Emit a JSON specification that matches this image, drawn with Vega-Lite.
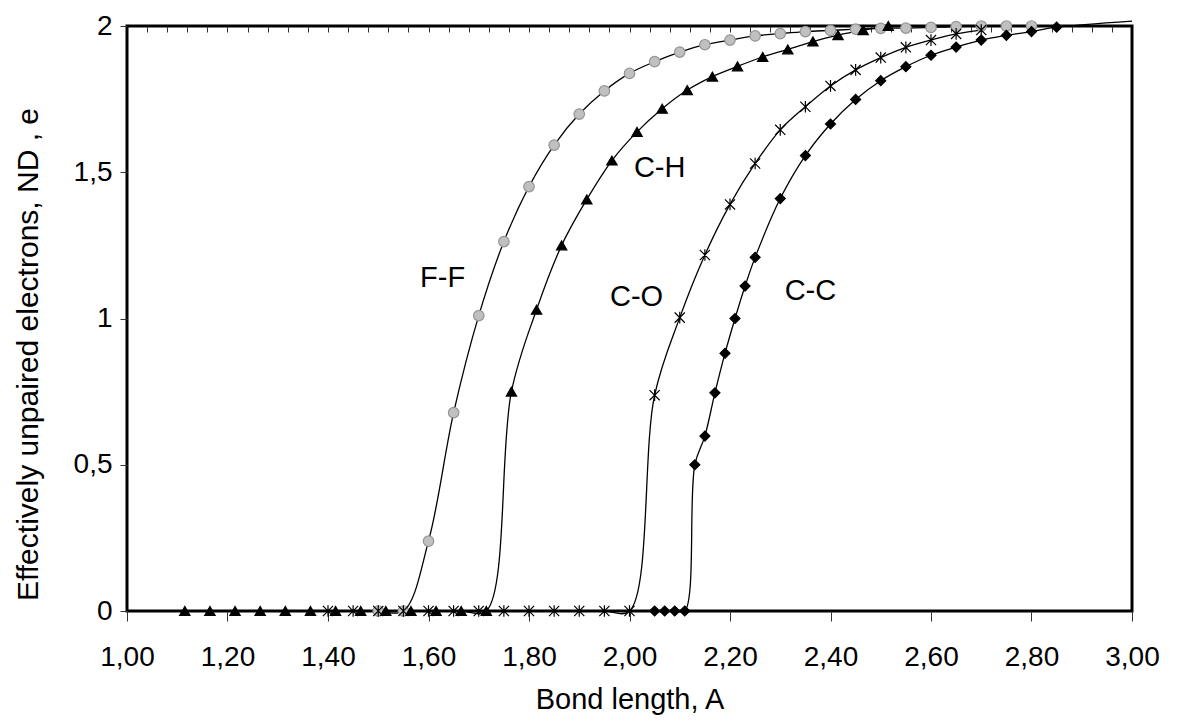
{
  "$schema": "https://vega.github.io/schema/vega-lite/v6.json",
  "width": 1005,
  "height": 585,
  "autosize": {"type": "none"},
  "padding": {"left": 127, "top": 26, "right": 61, "bottom": 113},
  "background": "white",
  "config": {
    "font": "Liberation Sans",
    "view": {"stroke": "black", "strokeWidth": 3}
  },
  "datasets": {
    "curves": [
      {"series": "F-F", "x": 1.50, "y": 0},
      {"series": "F-F", "x": 1.55, "y": 0},
      {"series": "F-F", "x": 1.60, "y": 0.239},
      {"series": "F-F", "x": 1.65, "y": 0.678},
      {"series": "F-F", "x": 1.70, "y": 1.01},
      {"series": "F-F", "x": 1.75, "y": 1.263},
      {"series": "F-F", "x": 1.80, "y": 1.451},
      {"series": "F-F", "x": 1.85, "y": 1.593},
      {"series": "F-F", "x": 1.90, "y": 1.699},
      {"series": "F-F", "x": 1.95, "y": 1.778},
      {"series": "F-F", "x": 2.00, "y": 1.838},
      {"series": "F-F", "x": 2.05, "y": 1.878},
      {"series": "F-F", "x": 2.10, "y": 1.911},
      {"series": "F-F", "x": 2.15, "y": 1.936},
      {"series": "F-F", "x": 2.20, "y": 1.952},
      {"series": "F-F", "x": 2.25, "y": 1.966},
      {"series": "F-F", "x": 2.30, "y": 1.974},
      {"series": "F-F", "x": 2.35, "y": 1.981},
      {"series": "F-F", "x": 2.40, "y": 1.985},
      {"series": "F-F", "x": 2.45, "y": 1.989},
      {"series": "F-F", "x": 2.50, "y": 1.992},
      {"series": "F-F", "x": 2.55, "y": 1.993},
      {"series": "F-F", "x": 2.60, "y": 1.995},
      {"series": "F-F", "x": 2.65, "y": 1.998},
      {"series": "F-F", "x": 2.70, "y": 2.0},
      {"series": "F-F", "x": 2.75, "y": 2.0},
      {"series": "F-F", "x": 2.80, "y": 2.0},
      {"series": "C-H", "x": 1.115, "y": 0},
      {"series": "C-H", "x": 1.165, "y": 0},
      {"series": "C-H", "x": 1.215, "y": 0},
      {"series": "C-H", "x": 1.265, "y": 0},
      {"series": "C-H", "x": 1.315, "y": 0},
      {"series": "C-H", "x": 1.365, "y": 0},
      {"series": "C-H", "x": 1.415, "y": 0},
      {"series": "C-H", "x": 1.465, "y": 0},
      {"series": "C-H", "x": 1.515, "y": 0},
      {"series": "C-H", "x": 1.565, "y": 0},
      {"series": "C-H", "x": 1.615, "y": 0},
      {"series": "C-H", "x": 1.665, "y": 0},
      {"series": "C-H", "x": 1.715, "y": 0},
      {"series": "C-H", "x": 1.765, "y": 0.75},
      {"series": "C-H", "x": 1.815, "y": 1.03},
      {"series": "C-H", "x": 1.865, "y": 1.25},
      {"series": "C-H", "x": 1.915, "y": 1.407},
      {"series": "C-H", "x": 1.965, "y": 1.54},
      {"series": "C-H", "x": 2.015, "y": 1.638},
      {"series": "C-H", "x": 2.065, "y": 1.717},
      {"series": "C-H", "x": 2.115, "y": 1.781},
      {"series": "C-H", "x": 2.165, "y": 1.827},
      {"series": "C-H", "x": 2.215, "y": 1.862},
      {"series": "C-H", "x": 2.265, "y": 1.894},
      {"series": "C-H", "x": 2.315, "y": 1.92},
      {"series": "C-H", "x": 2.365, "y": 1.947},
      {"series": "C-H", "x": 2.415, "y": 1.969},
      {"series": "C-H", "x": 2.465, "y": 1.986},
      {"series": "C-H", "x": 2.515, "y": 2.0},
      {"series": "C-O", "x": 1.40, "y": 0},
      {"series": "C-O", "x": 1.45, "y": 0},
      {"series": "C-O", "x": 1.50, "y": 0},
      {"series": "C-O", "x": 1.55, "y": 0},
      {"series": "C-O", "x": 1.60, "y": 0},
      {"series": "C-O", "x": 1.65, "y": 0},
      {"series": "C-O", "x": 1.70, "y": 0},
      {"series": "C-O", "x": 1.75, "y": 0},
      {"series": "C-O", "x": 1.80, "y": 0},
      {"series": "C-O", "x": 1.85, "y": 0},
      {"series": "C-O", "x": 1.90, "y": 0},
      {"series": "C-O", "x": 1.95, "y": 0},
      {"series": "C-O", "x": 2.00, "y": 0},
      {"series": "C-O", "x": 2.05, "y": 0.738},
      {"series": "C-O", "x": 2.10, "y": 1.003},
      {"series": "C-O", "x": 2.15, "y": 1.217},
      {"series": "C-O", "x": 2.20, "y": 1.39},
      {"series": "C-O", "x": 2.25, "y": 1.53},
      {"series": "C-O", "x": 2.30, "y": 1.645},
      {"series": "C-O", "x": 2.35, "y": 1.724},
      {"series": "C-O", "x": 2.40, "y": 1.795},
      {"series": "C-O", "x": 2.45, "y": 1.85},
      {"series": "C-O", "x": 2.50, "y": 1.892},
      {"series": "C-O", "x": 2.55, "y": 1.927},
      {"series": "C-O", "x": 2.60, "y": 1.952},
      {"series": "C-O", "x": 2.65, "y": 1.973},
      {"series": "C-O", "x": 2.70, "y": 1.986},
      {"series": "C-C", "x": 2.05, "y": 0},
      {"series": "C-C", "x": 2.07, "y": 0},
      {"series": "C-C", "x": 2.09, "y": 0},
      {"series": "C-C", "x": 2.11, "y": 0},
      {"series": "C-C", "x": 2.13, "y": 0.5},
      {"series": "C-C", "x": 2.15, "y": 0.598},
      {"series": "C-C", "x": 2.17, "y": 0.746},
      {"series": "C-C", "x": 2.19, "y": 0.881},
      {"series": "C-C", "x": 2.21, "y": 1.0},
      {"series": "C-C", "x": 2.23, "y": 1.111},
      {"series": "C-C", "x": 2.25, "y": 1.209},
      {"series": "C-C", "x": 2.30, "y": 1.41},
      {"series": "C-C", "x": 2.35, "y": 1.557},
      {"series": "C-C", "x": 2.40, "y": 1.665},
      {"series": "C-C", "x": 2.45, "y": 1.749},
      {"series": "C-C", "x": 2.50, "y": 1.813},
      {"series": "C-C", "x": 2.55, "y": 1.861},
      {"series": "C-C", "x": 2.60, "y": 1.9},
      {"series": "C-C", "x": 2.65, "y": 1.928},
      {"series": "C-C", "x": 2.70, "y": 1.952},
      {"series": "C-C", "x": 2.75, "y": 1.968},
      {"series": "C-C", "x": 2.80, "y": 1.981},
      {"series": "C-C", "x": 2.85, "y": 1.996},
      {"series": "C-C", "x": 3.00, "y": 2.017}
    ],
    "labels": [
      {"label": "F-F", "x": 1.628, "y": 1.138},
      {"label": "C-H", "x": 2.06, "y": 1.516},
      {"label": "C-O", "x": 2.014, "y": 1.075},
      {"label": "C-C", "x": 2.36, "y": 1.094}
    ]
  },
  "layer": [
    {
      "data": {"name": "curves"},
      "mark": {"type": "line", "interpolate": "catmull-rom", "color": "black", "strokeWidth": 1.3},
      "encoding": {
        "x": {
          "field": "x", "type": "quantitative",
          "scale": {"domain": [1, 3], "nice": false, "zero": false},
          "axis": {
            "values": [1, 1.2, 1.4, 1.6, 1.8, 2, 2.2, 2.4, 2.6, 2.8, 3],
            "labelExpr": "replace(format(datum.value, '.2f'), '.', ',')",
            "tickSize": 10, "tickColor": "#333", "domain": false, "grid": false,
            "labelFontSize": 28, "labelColor": "black", "labelPadding": 22,
            "labelFlush": false, "labelOverlap": false,
            "title": "Bond length, A", "titleFontSize": 29, "titleFontWeight": "normal",
            "titleColor": "black", "titleY": 97, "titleBaseline": "alphabetic"
          }
        },
        "y": {
          "field": "y", "type": "quantitative",
          "scale": {"domain": [0, 2], "nice": false},
          "axis": {
            "values": [0, 0.5, 1, 1.5, 2],
            "labelExpr": "replace(toString(datum.value), '.', ',')",
            "tickSize": 7, "tickColor": "#333", "domain": false, "grid": false,
            "labelFontSize": 28, "labelColor": "black", "labelPadding": 8,
            "labelFlush": false, "labelOverlap": false,
            "title": "Effectively unpaired electrons,  ND , e", "titleFontSize": 30,
            "titleFontWeight": "normal", "titleColor": "black",
            "titleX": -99, "titleY": 328, "titleAngle": 270,
            "titleAlign": "center", "titleBaseline": "middle"
          }
        },
        "detail": {"field": "series"}
      }
    },
    {
      "data": {"name": "curves"},
      "transform": [{"filter": "datum.x <= 2.9"}],
      "mark": {"type": "point", "opacity": 1},
      "encoding": {
        "x": {
          "field": "x", "type": "quantitative",
          "scale": {"domain": [1, 3], "nice": false, "zero": false},
          "axis": {
            "values": [1.04,1.08,1.12,1.16,1.2,1.24,1.28,1.32,1.36,1.4,1.44,1.48,1.52,1.56,1.6,1.64,1.68,1.72,1.76,1.8,1.84,1.88,1.92,1.96,2,2.04,2.08,2.12,2.16,2.2,2.24,2.28,2.32,2.36,2.4,2.44,2.48,2.52,2.56,2.6,2.64,2.68,2.72,2.76,2.8,2.84,2.88,2.92,2.96],
            "tickSize": -6, "tickColor": "#333", "labels": false, "domain": false,
            "grid": false, "title": null
          }
        },
        "y": {
          "field": "y", "type": "quantitative",
          "scale": {"domain": [0, 2], "nice": false},
          "axis": null
        },
        "shape": {
          "field": "series", "type": "nominal",
          "scale": {"domain": ["F-F", "C-H", "C-O", "C-C"], "range": ["circle", "triangle-up", "M-1,-1L1,1M-1,1L1,-1M0,-1.15L0,1.15", "diamond"]},
          "legend": null
        },
        "fill": {
          "field": "series", "type": "nominal",
          "scale": {"domain": ["F-F", "C-H", "C-O", "C-C"], "range": ["#c0c0c0", "#000000", "transparent", "#000000"]},
          "legend": null
        },
        "stroke": {
          "field": "series", "type": "nominal",
          "scale": {"domain": ["F-F", "C-H", "C-O", "C-C"], "range": ["#949494", "#000000", "#000000", "#000000"]},
          "legend": null
        },
        "size": {
          "field": "series", "type": "nominal",
          "scale": {"domain": ["F-F", "C-H", "C-O", "C-C"], "range": [110, 100, 70, 64]},
          "legend": null
        },
        "strokeWidth": {"value": 1.2}
      }
    },
    {
      "data": {"name": "labels"},
      "mark": {"type": "text", "fontSize": 29, "font": "Liberation Sans", "color": "black", "align": "center", "baseline": "middle"},
      "encoding": {
        "x": {"field": "x", "type": "quantitative", "scale": {"domain": [1, 3], "nice": false, "zero": false}, "axis": null},
        "y": {"field": "y", "type": "quantitative", "scale": {"domain": [0, 2], "nice": false}, "axis": null},
        "text": {"field": "label"}
      }
    }
  ],
  "resolve": {"axis": {"x": "independent", "y": "independent"}}
}
